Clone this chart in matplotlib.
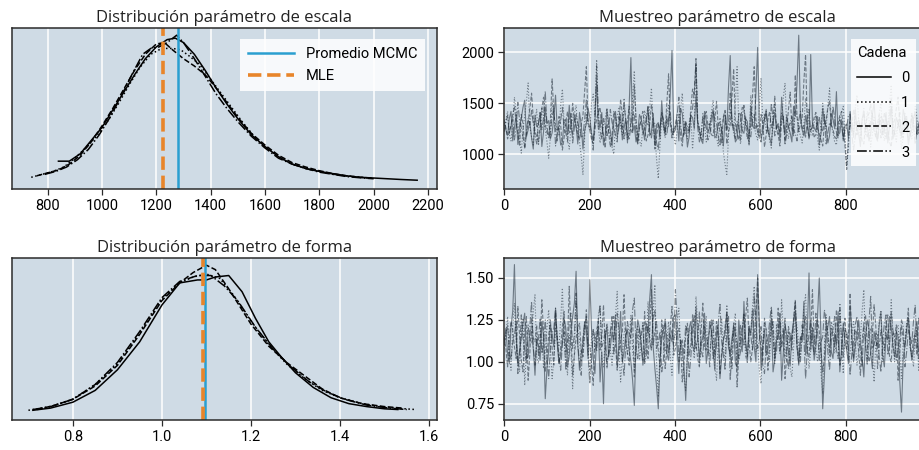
import numpy as np
import matplotlib
matplotlib.use("Agg")
import matplotlib.pyplot as plt

# ---- data ----
# KDE of the scale parameter, one curve per chain (relative density)
esc_x0 = [840, 880, 920, 960, 1000, 1040, 1080, 1120, 1160, 1200, 1240, 1270, 1300, 1340, 1380, 1420,
          1460, 1500, 1550, 1600, 1650, 1700, 1750, 1800, 1850, 1900, 1950, 2000, 2050, 2100, 2160]
esc_d0 = [0.14, 0.14, 0.19, 0.28, 0.37, 0.49, 0.61, 0.73, 0.84, 0.92, 0.97, 0.98, 0.95, 0.87, 0.76, 0.64,
          0.53, 0.43, 0.32, 0.24, 0.17, 0.12, 0.09, 0.07, 0.055, 0.04, 0.03, 0.025, 0.02, 0.015, 0.01]
esc_x1 = [740, 780, 820, 860, 900, 940, 980, 1020, 1060, 1100, 1140, 1180, 1220, 1260, 1290, 1320,
          1360, 1400, 1440, 1480, 1520, 1560, 1600, 1650, 1700, 1750, 1800, 1850, 1900, 1950, 1990]
esc_d1 = [0.03, 0.05, 0.07, 0.10, 0.16, 0.23, 0.31, 0.41, 0.53, 0.66, 0.78, 0.87, 0.91, 0.91, 0.90, 0.86,
          0.80, 0.70, 0.60, 0.50, 0.40, 0.31, 0.24, 0.17, 0.12, 0.09, 0.07, 0.05, 0.04, 0.03, 0.025]
esc_x2 = [760, 800, 840, 880, 920, 960, 1000, 1040, 1080, 1120, 1160, 1200, 1230, 1260, 1300, 1340,
          1380, 1420, 1460, 1500, 1550, 1600, 1650, 1700, 1750, 1800, 1850, 1900, 1950, 2000]
esc_d2 = [0.04, 0.06, 0.08, 0.12, 0.18, 0.27, 0.38, 0.50, 0.63, 0.76, 0.87, 0.94, 0.95, 0.90, 0.84, 0.79,
          0.73, 0.64, 0.54, 0.44, 0.33, 0.25, 0.18, 0.13, 0.10, 0.075, 0.055, 0.04, 0.03, 0.022]
esc_x3 = [790, 830, 870, 910, 950, 990, 1030, 1070, 1110, 1150, 1180, 1210, 1240, 1275, 1300, 1340,
          1380, 1420, 1460, 1500, 1550, 1600, 1650, 1700, 1750, 1800, 1850, 1900, 1960, 2000]
esc_d3 = [0.05, 0.07, 0.10, 0.15, 0.22, 0.32, 0.44, 0.58, 0.73, 0.87, 0.91, 0.92, 0.95, 1.00, 0.95, 0.84,
          0.72, 0.60, 0.50, 0.41, 0.31, 0.23, 0.16, 0.12, 0.09, 0.065, 0.05, 0.035, 0.025, 0.02]

# KDE of the shape parameter
for_x0 = [0.71, 0.75, 0.80, 0.85, 0.90, 0.95, 1.00, 1.04, 1.08, 1.10, 1.12, 1.15, 1.18, 1.21, 1.24, 1.27,
          1.30, 1.34, 1.38, 1.42, 1.46, 1.50, 1.53]
for_d0 = [0.015, 0.03, 0.07, 0.15, 0.29, 0.48, 0.73, 0.88, 0.90, 0.90, 0.92, 0.93, 0.82, 0.64, 0.48, 0.37,
          0.27, 0.17, 0.10, 0.06, 0.04, 0.025, 0.02]
for_x1 = [0.70, 0.75, 0.80, 0.85, 0.90, 0.95, 1.00, 1.04, 1.07, 1.10, 1.13, 1.16, 1.20, 1.24, 1.28, 1.32,
          1.36, 1.40, 1.45, 1.50, 1.57]
for_d1 = [0.015, 0.04, 0.09, 0.19, 0.33, 0.54, 0.77, 0.88, 0.92, 0.94, 0.91, 0.80, 0.62, 0.46, 0.33, 0.23,
          0.15, 0.10, 0.06, 0.035, 0.02]
for_x2 = [0.72, 0.76, 0.80, 0.85, 0.90, 0.95, 1.00, 1.04, 1.07, 1.10, 1.12, 1.15, 1.20, 1.24, 1.28, 1.32,
          1.36, 1.40, 1.45, 1.50, 1.54]
for_d2 = [0.02, 0.05, 0.09, 0.18, 0.32, 0.53, 0.76, 0.88, 0.95, 1.00, 0.97, 0.84, 0.60, 0.45, 0.34, 0.25,
          0.16, 0.10, 0.06, 0.04, 0.03]
for_x3 = [0.71, 0.75, 0.80, 0.85, 0.90, 0.95, 1.00, 1.04, 1.08, 1.11, 1.14, 1.17, 1.21, 1.25, 1.29, 1.33,
          1.37, 1.41, 1.46, 1.51, 1.55]
for_d3 = [0.02, 0.04, 0.09, 0.19, 0.34, 0.55, 0.78, 0.89, 0.93, 0.93, 0.86, 0.76, 0.58, 0.43, 0.31, 0.21,
          0.14, 0.09, 0.05, 0.03, 0.02]

media_esc, mle_esc = 1280, 1225
media_for, mle_for = 1.096, 1.093

# traces (every 4th draw)
tr_esc0 = [1310, 1240, 1185, 1350, 1420, 1130, 1260, 1390, 1095, 1280, 1350, 1460, 1530, 1170, 1240, 1320, 1160, 1050, 1385, 1270,
           1290, 1410, 1075, 1220, 1460, 1300, 1330, 1150, 1210, 1360, 1580, 1240, 1250, 1090, 1120, 1330, 1340, 1190, 1480, 1260,
           1195, 1380, 1275, 1100, 1410, 1290, 1050, 1230, 1300, 1450, 1365, 1200, 1140, 1320, 1720, 1250, 1260, 1410, 1090, 1170,
           1445, 1300, 1230, 1080, 1315, 1420, 1170, 1260, 1390, 1140, 1255, 1350, 1110, 1480, 1950, 1230, 1280, 1120, 1205, 1390,
           1350, 1260, 1140, 1310, 1460, 1180, 1220, 1400, 1085, 1290, 1310, 1150, 1525, 1270, 1190, 1360, 1270, 1600, 2020, 1210,
           1240, 1330, 1130, 1450, 1400, 1190, 1295, 1070, 1170, 1380, 1360, 1250, 1580, 1300, 1215, 1140, 1105, 1420, 1330, 1210,
           1265, 1370, 1440, 1160, 1180, 1300, 1310, 1240, 1080, 1350, 1235, 1660, 1970, 1280, 1290, 1120, 1150, 1400, 1395, 1230,
           1205, 1350, 1320, 1090, 1475, 1280, 1250, 1610, 2050, 1300, 1160, 1220, 1340, 1440, 1220, 1170, 1095, 1310, 1410, 1250,
           1285, 1140, 1560, 1330, 1195, 1380, 1265, 1210, 1120, 1470, 1370, 1700, 2170, 1360, 1240, 1180, 1380, 1290, 1150, 1980,
           1305, 1260, 1225, 1370, 1090, 1200, 1450, 1320, 1270, 1110, 1180, 1400, 1345, 1250, 1615, 1190, 1210, 1340, 1130, 1280,
           1295, 1160, 1420, 1300, 1165, 1440, 1250, 1200, 1075, 1350, 1390, 1240, 1280, 1130, 1200, 1390, 1505, 1270, 1145, 1320,
           1330, 1190, 1260, 1410, 1110, 1280, 1470, 1150, 1225, 1360, 1305, 1230, 1185, 1440, 1360, 1270, 1095, 1180, 1240, 1350,
           1415, 1200, 1275, 1310, 1155, 1390, 1330, 1240, 1215, 1300]
tr_esc1 = [1250, 1330, 1420, 1200, 1130, 1290, 1560, 1410, 1290, 1160, 1010, 1250, 1380, 1520, 1700, 1270, 1170, 1090, 1330, 1440,
           1085, 1230, 1460, 1350, 1240, 1120, 960, 1180, 1520, 1390, 1300, 1210, 1190, 1480, 1640, 1310, 1270, 1150, 1050, 1260,
           1350, 1400, 1480, 1230, 1120, 980, 800, 1170, 1400, 1300, 1230, 1500, 1590, 1380, 1930, 1260, 1110, 1200, 1290, 1350,
           1450, 1240, 1180, 1070, 1000, 1300, 1370, 1450, 1260, 1190, 1550, 1330, 1140, 1220, 1320, 1560, 1820, 1290, 1210, 1130,
           1080, 1250, 1430, 1340, 1280, 1470, 1650, 1220, 1190, 950, 760, 1100, 1340, 1260, 1160, 1390, 1480, 1310, 1250, 1180,
           1090, 1230, 1370, 1440, 1600, 1290, 1200, 1150, 1310, 1380, 1050, 1260, 1890, 1330, 1240, 1160, 1400, 1290, 1120, 1210,
           1290, 1410, 1530, 1270, 1170, 1080, 1360, 1240, 1020, 900, 800, 1190, 1450, 1350, 1230, 1500, 1860, 1280, 1100, 1230,
           1320, 1370, 1210, 1100, 1580, 1340, 1280, 1190, 1140, 1460, 1750, 1300, 1400, 1220, 1260, 1130, 1060, 1350, 1490, 1270,
           1190, 1250, 1330, 1560, 1700, 1240, 1150, 1310, 1270, 1200, 1430, 1360, 1240, 1180, 1110, 1290, 1550, 1420, 1300, 1230,
           1180, 1310, 1380, 1150, 1040, 1240, 1500, 1370, 1260, 1470, 1650, 1300, 1210, 1120, 1090, 1280, 1350, 1410, 1470, 1190,
           880, 1060, 1310, 1240, 1200, 1450, 1580, 1330, 1160, 1270, 1290, 1180, 1420, 1350, 1070, 1200, 1360, 1280, 1240, 1400,
           1500, 1220, 1130, 1310, 1280, 1490, 1680, 1260, 1190, 1120, 1340, 1250, 1050, 1180, 1400, 1330, 1250, 1210, 1150, 1290,
           1470, 1360, 1220, 1150, 1300, 1240, 1110, 1350, 1390, 1260]
tr_esc2 = [1340, 1260, 1150, 1220, 1280, 1390, 1470, 1310, 1200, 1080, 1390, 1300, 1060, 1190, 1310, 1450, 1600, 1350, 1230, 1170,
           1120, 1280, 1450, 1560, 1290, 1210, 1180, 1330, 1740, 1400, 1250, 1130, 1370, 1290, 1040, 1160, 1320, 1420, 1210, 1270,
           1500, 1340, 1270, 1190, 1140, 1300, 1380, 1620, 1860, 1330, 1230, 1150, 1100, 1240, 1350, 1410, 1460, 1280, 1190, 1060,
           1300, 1220, 1070, 1180, 1420, 1370, 1260, 1300, 1540, 1390, 1150, 1240, 1330, 1470, 1240, 1200, 1680, 1350, 1110, 1250,
           1360, 1420, 1270, 1130, 1190, 1300, 1490, 1360, 1050, 1180, 1300, 1250, 1410, 1330, 1220, 1500, 1790, 1310, 1160, 1230,
           1280, 1400, 1390, 1180, 1080, 1270, 1330, 1210, 1220, 1450, 1640, 1590, 1940, 1320, 1260, 1150, 1140, 1370, 1420, 1280,
           1300, 1190, 1180, 1350, 1520, 1270, 1240, 1110, 1370, 1430, 1100, 1220, 1290, 1560, 1840, 1300, 1200, 1140, 1330, 1460,
           1450, 1280, 1150, 1210, 1280, 1570, 1860, 1340, 1210, 1170, 1390, 1300, 1070, 1190, 1340, 1420, 1260, 1330, 1570, 1240,
           1190, 1080, 1300, 1370, 1130, 1250, 1440, 1610, 1250, 1180, 1780, 1380, 1220, 1300, 1350, 1720, 1980, 1280, 1160, 1230,
           1290, 1360, 1410, 1250, 1200, 1140, 1080, 1300, 1330, 1460, 1520, 1290, 1240, 1170, 1150, 1310, 1380, 1420, 1270, 1080,
           850, 1150, 1320, 1250, 1440, 1360, 1190, 1280, 1260, 1130, 1100, 1290, 1370, 1400, 1490, 1310, 1230, 1170, 1300, 1390,
           1160, 1250, 1410, 1330, 1250, 1120, 1070, 1280, 1340, 1450, 1560, 1300, 1210, 1160, 1290, 1370, 1140, 1240, 1380, 1300,
           1270, 1200, 1190, 1340, 1430, 1260, 1230, 1180, 1310, 1270]
tr_esc3 = [1220, 1310, 1380, 1200, 1290, 1350, 1140, 1270, 1510, 1330, 1260, 1170, 1060, 1240, 1350, 1290, 1430, 1300, 1190, 1100,
           1300, 1410, 1240, 1360, 1620, 1280, 1150, 1220, 1370, 1450, 1080, 1190, 1280, 1330, 1460, 1250, 1210, 1120, 1330, 1400,
           1110, 1260, 1390, 1300, 1250, 1170, 1180, 1340, 1540, 1290, 1290, 1210, 1040, 1360, 1870, 1420, 1230, 1150, 1350, 1280,
           1170, 1240, 1440, 1310, 1260, 1190, 1120, 1370, 1310, 1250, 1500, 1330, 1200, 1140, 1290, 1400, 1380, 1220, 1090, 1280,
           1330, 1190, 1250, 1360, 1470, 1230, 1160, 1310, 1300, 1110, 1040, 1270, 1400, 1330, 1220, 1190, 1350, 1420, 1180, 1250,
           1270, 1380, 1560, 1300, 1140, 1210, 1310, 1280, 1230, 1390, 1450, 1620, 1880, 1260, 1120, 1200, 1360, 1310, 1260, 1140,
           1190, 1290, 1420, 1350, 1300, 1180, 1080, 1240, 1350, 1410, 1240, 1300, 1600, 1330, 1200, 1150, 1320, 1260, 1140, 1370,
           1480, 1290, 1260, 1200, 1170, 1340, 1390, 1250, 1290, 1160, 1120, 1300, 1340, 1420, 1230, 1180, 1500, 1350, 1180, 1270,
           1300, 1220, 1410, 1360, 1090, 1200, 1270, 1310, 1370, 1240, 1200, 1130, 1330, 1420, 1250, 1280, 1160, 1340, 1440, 1230,
           1280, 1170, 1190, 1300, 1360, 1250, 1230, 1390, 1100, 1210, 1310, 1280, 1470, 1350, 1220, 1160, 1340, 1290, 1150, 1240,
           1260, 1380, 1390, 1200, 1040, 1170, 1300, 1350, 1230, 1310, 1450, 1260, 1170, 1220, 1330, 1400, 1260, 1190, 1120, 1280,
           1380, 1330, 1240, 1150, 1300, 1370, 1540, 1270, 1190, 1230, 1280, 1410, 1150, 1260, 1360, 1300, 1220, 1180, 1400, 1290,
           1100, 1240, 1290, 1370, 1340, 1260, 1210, 1150, 1270, 1320]

tr_for0 = [1.12, 1.20, 1.05, 0.99, 1.21, 1.30, 1.58, 1.16, 0.98, 1.07, 1.14, 1.23, 1.29, 1.02, 1.03, 1.19, 1.18, 1.08, 0.92, 1.13,
           1.10, 1.01, 1.24, 1.15, 0.78, 0.96, 1.07, 1.22, 1.16, 1.09, 1.32, 1.11, 0.99, 1.04, 1.12, 1.26, 1.20, 0.97, 1.04, 1.17,
           1.27, 1.35, 1.54, 1.10, 0.95, 1.05, 1.11, 1.24, 1.18, 1.02, 1.49, 1.19, 1.02, 0.93, 1.15, 1.21, 0.88, 1.06, 0.75, 1.14,
           1.22, 1.03, 1.09, 1.18, 1.13, 1.28, 0.97, 1.10, 1.30, 1.00, 1.06, 1.16, 1.19, 1.07, 1.00, 0.89, 0.74, 1.12, 1.25, 1.20,
           1.11, 0.98, 1.04, 1.23, 1.17, 1.38, 1.52, 1.09, 0.96, 0.85, 0.72, 1.01, 1.14, 1.19, 1.23, 1.05, 1.01, 1.16, 1.12, 1.27,
           1.28, 1.08, 0.93, 1.13, 1.08, 0.97, 0.77, 1.04, 1.20, 1.24, 1.10, 1.06, 1.33, 1.15, 1.02, 1.11, 1.15, 1.29, 0.99, 1.07,
           1.24, 1.18, 1.07, 0.95, 1.18, 1.22, 0.90, 1.03, 1.13, 1.17, 1.29, 1.08, 1.05, 1.14, 1.21, 0.99, 0.97, 1.25, 1.11, 1.06,
           1.36, 1.12, 1.03, 1.20, 1.16, 1.31, 1.09, 1.00, 1.52, 1.23, 0.95, 1.10, 1.19, 1.04, 1.08, 1.17, 1.26, 0.94, 1.01, 1.13,
           1.14, 1.27, 0.89, 1.05, 1.22, 1.16, 1.06, 0.98, 1.17, 1.24, 1.31, 1.09, 0.98, 1.15, 1.12, 1.36, 1.04, 1.18, 1.53, 1.07,
           1.20, 1.01, 1.09, 1.28, 1.50, 1.14, 0.72, 0.92, 1.15, 1.21, 1.27, 1.06, 1.02, 1.17, 1.10, 1.30, 0.94, 1.08, 1.23, 1.12,
           1.07, 0.99, 1.34, 1.18, 1.00, 1.09, 1.16, 1.25, 1.11, 1.03, 0.91, 1.14, 1.25, 1.20, 1.05, 0.96, 1.18, 1.13, 1.08, 1.22,
           1.30, 1.04, 0.97, 1.16, 1.13, 1.27, 1.21, 1.09, 1.03, 1.18, 1.15, 0.88, 0.70, 1.02, 1.09, 1.19, 1.26, 1.12, 1.01, 1.07,
           1.19, 1.24, 1.06, 1.11, 1.12, 1.00, 0.96, 1.17, 1.14, 1.09]
tr_for1 = [1.08, 1.15, 1.27, 1.04, 0.95, 1.20, 1.35, 1.11, 1.02, 0.94, 1.18, 1.26, 0.86, 1.07, 1.22, 1.13, 1.11, 1.30, 1.40, 1.03,
           0.99, 1.17, 1.15, 0.96, 1.06, 1.21, 1.31, 1.09, 0.90, 1.01, 1.20, 1.14, 1.09, 1.25, 1.44, 1.12, 1.01, 0.92, 1.16, 1.08,
           0.84, 1.05, 1.38, 1.19, 1.13, 1.00, 1.05, 1.24, 1.26, 1.10, 0.93, 1.15, 1.19, 1.07, 1.10, 1.28, 1.33, 1.02, 0.97, 1.12,
           1.23, 1.16, 1.07, 0.98, 1.14, 1.27, 1.42, 1.09, 0.88, 1.03, 1.17, 1.21, 1.04, 1.13, 1.28, 1.07, 0.95, 1.18, 1.21, 1.01,
           1.12, 1.24, 1.00, 1.10, 1.36, 1.15, 1.08, 1.30, 1.46, 0.99, 0.79, 1.06, 1.18, 1.22, 1.06, 1.11, 1.24, 1.03, 0.92, 1.14,
           1.15, 1.25, 1.32, 1.09, 1.03, 0.90, 0.83, 1.07, 1.20, 1.17, 1.11, 1.02, 1.39, 1.23, 0.98, 1.08, 1.13, 1.19, 1.27, 1.05,
           1.05, 1.16, 1.19, 0.97, 0.89, 1.12, 1.16, 1.26, 1.08, 1.01, 1.34, 1.18, 1.01, 1.10, 1.22, 1.29, 0.94, 1.07, 1.14, 1.20,
           1.29, 1.02, 1.04, 1.15, 1.17, 1.33, 1.45, 1.06, 1.10, 0.95, 0.87, 1.11, 1.23, 1.19, 1.06, 1.00, 1.31, 1.14, 0.99, 1.22,
           1.12, 1.05, 1.37, 1.17, 1.02, 1.13, 1.18, 0.96, 0.91, 1.09, 1.26, 1.21, 1.09, 1.03, 1.15, 1.32, 1.40, 1.12, 0.96, 1.07,
           1.21, 1.16, 1.07, 1.00, 1.13, 0.93, 0.81, 1.10, 1.28, 1.18, 1.03, 1.24, 1.19, 1.05, 1.11, 1.14, 1.35, 1.08, 0.93, 1.20,
           1.16, 1.01, 1.05, 1.17, 1.24, 1.12, 0.98, 1.06, 1.14, 1.30, 1.43, 1.09, 1.02, 1.15, 1.20, 1.04, 0.88, 1.11, 1.10, 1.26,
           1.30, 1.00, 1.06, 1.21, 1.17, 1.09, 1.37, 1.13, 1.00, 1.18, 1.22, 1.05, 0.90, 1.12, 1.13, 1.23, 1.27, 1.08, 1.04, 0.97,
           1.15, 1.20, 0.95, 1.14, 1.21, 1.02, 1.08, 1.25, 1.18, 1.10]
tr_for2 = [1.15, 1.08, 0.97, 1.13, 1.24, 1.19, 1.09, 1.02, 1.33, 1.16, 1.01, 0.94, 1.18, 1.27, 0.89, 1.05, 1.26, 1.14, 1.12, 1.22,
           1.04, 1.10, 1.37, 1.18, 0.94, 1.03, 1.16, 1.25, 1.08, 0.98, 1.29, 1.15, 0.99, 1.09, 1.21, 1.30, 1.06, 1.12, 1.45, 1.17,
           0.92, 1.04, 1.14, 1.20, 1.23, 1.07, 1.03, 1.16, 1.31, 1.10, 1.10, 0.99, 0.86, 1.13, 1.19, 1.24, 1.07, 1.15, 1.34, 1.09,
           1.00, 1.05, 1.17, 1.22, 1.27, 1.11, 0.95, 1.06, 1.13, 1.18, 1.40, 1.12, 1.05, 0.98, 1.22, 1.26, 0.91, 1.08, 1.15, 1.20,
           1.09, 1.01, 1.30, 1.14, 1.02, 1.19, 1.43, 1.10, 1.18, 1.24, 1.06, 0.97, 1.25, 1.13, 0.96, 1.07, 1.14, 1.21, 1.33, 1.04,
           1.08, 1.17, 1.20, 1.11, 0.88, 0.99, 1.16, 1.23, 1.04, 1.10, 1.28, 1.15, 1.11, 1.02, 0.97, 1.18, 1.35, 1.08, 1.07, 1.14,
           1.19, 1.25, 1.02, 1.09, 1.24, 1.16, 0.93, 1.06, 1.13, 1.21, 1.30, 1.11, 1.06, 0.96, 1.17, 1.23, 0.85, 1.04, 1.22, 1.15,
           1.10, 1.27, 1.38, 1.12, 1.00, 1.08, 1.15, 1.29, 1.50, 1.17, 1.08, 1.01, 1.26, 1.19, 0.95, 1.10, 1.19, 1.24, 1.04, 1.13,
           1.32, 1.06, 1.12, 1.20, 0.90, 1.03, 1.21, 1.15, 1.07, 1.27, 1.36, 1.09, 0.99, 1.14, 1.16, 1.22, 1.27, 1.05, 1.03, 1.18,
           1.43, 1.11, 1.10, 1.25, 1.18, 1.07, 0.94, 1.02, 1.25, 1.16, 1.06, 1.20, 1.14, 1.09, 1.31, 1.13, 0.98, 1.04, 1.20, 1.26,
           1.08, 1.15, 1.41, 1.10, 1.02, 1.19, 1.17, 1.06, 0.92, 1.12, 1.23, 1.28, 1.11, 1.00, 1.05, 1.16, 1.34, 1.21, 0.96, 1.09,
           1.19, 1.14, 1.07, 1.24, 1.28, 1.03, 1.00, 1.17, 1.15, 1.22, 0.89, 1.06, 1.22, 1.13, 1.09, 1.20, 1.32, 1.10, 1.03, 1.15,
           1.16, 1.04, 1.26, 1.18, 0.97, 1.08, 1.12, 1.21, 1.08, 1.14]
tr_for3 = [1.10, 1.17, 1.22, 1.06, 1.01, 1.12, 1.16, 1.24, 0.93, 1.05, 1.28, 1.14, 1.07, 0.99, 1.19, 1.21, 1.36, 1.09, 0.98, 1.15,
           1.13, 1.26, 1.05, 1.11, 1.25, 1.02, 0.90, 1.08, 1.17, 1.20, 1.32, 1.13, 1.03, 0.95, 1.11, 1.18, 0.95, 1.07, 1.23, 1.29,
           1.08, 1.16, 1.41, 1.10, 1.00, 0.92, 1.15, 1.22, 1.27, 1.04, 0.87, 1.01, 1.20, 1.14, 1.06, 1.25, 1.34, 1.09, 1.12, 1.19,
           0.96, 1.06, 1.18, 1.27, 1.04, 1.13, 1.29, 1.20, 1.09, 1.02, 0.92, 1.10, 1.24, 1.17, 1.14, 1.31, 1.38, 1.07, 1.02, 1.15,
           1.16, 1.22, 0.99, 1.04, 1.21, 1.12, 1.07, 1.26, 1.31, 1.08, 1.11, 1.18, 0.94, 1.01, 1.26, 1.14, 1.05, 1.20, 1.17, 1.09,
           1.43, 1.24, 1.00, 1.11, 1.13, 1.05, 1.22, 1.16, 0.91, 1.03, 1.19, 1.28, 1.08, 1.13, 1.30, 1.07, 1.03, 1.21, 1.15, 1.10,
           0.97, 1.18, 1.25, 1.04, 1.10, 1.23, 1.35, 1.12, 1.04, 0.95, 1.18, 1.27, 0.89, 1.08, 1.23, 1.16, 1.12, 1.01, 1.06, 1.19,
           1.28, 1.11, 0.99, 1.22, 1.16, 1.07, 1.40, 1.26, 1.08, 1.13, 1.21, 0.98, 0.93, 1.10, 1.14, 1.24, 1.33, 1.16, 1.02, 1.06,
           1.19, 1.29, 1.09, 1.14, 1.26, 1.03, 0.96, 1.17, 1.13, 1.22, 1.37, 1.10, 1.05, 1.00, 1.22, 1.15, 0.90, 1.07, 1.17, 1.25,
           1.11, 1.04, 1.29, 1.18, 1.01, 1.12, 1.15, 1.31, 1.24, 1.06, 0.95, 1.13, 1.20, 1.27, 1.07, 1.02, 1.32, 1.14, 1.03, 1.19,
           1.18, 1.09, 0.92, 1.05, 1.12, 1.22, 1.27, 1.15, 1.06, 0.97, 1.21, 1.11, 0.98, 1.24, 1.39, 1.08, 1.10, 1.17, 1.16, 1.03,
           0.94, 1.12, 1.23, 1.28, 1.04, 1.09, 1.30, 1.19, 1.13, 1.01, 1.08, 1.14, 1.25, 1.21, 0.97, 1.06, 1.19, 1.15, 1.11, 1.24,
           1.34, 1.10, 1.02, 1.18, 1.15, 1.07, 1.06, 1.13, 1.20, 1.12]

cadenas = ["0", "1", "2", "3"]
estilos = ["-", ":", "--", "-."]

# ---- style ----
plt.rcParams["font.family"] = ["Roboto", "DejaVu Sans"]
fondo = "#cfdbe5"
c_media = "#2a9fd0"
c_mle = "#e8852a"

fig = plt.figure(figsize=(9.2, 4.5), dpi=100)
ax_de = fig.add_axes([0.013, 0.58, 0.462, 0.358])
ax_df = fig.add_axes([0.013, 0.067, 0.462, 0.36])
ax_te = fig.add_axes([0.548, 0.58, 0.464, 0.358])
ax_tf = fig.add_axes([0.548, 0.067, 0.464, 0.36])


def estilo(ax, titulo):
    ax.set_facecolor(fondo)
    for s in ax.spines.values():
        s.set_color("#2b2b2b")
        s.set_linewidth(1.1)
    ax.set_axisbelow(True)
    ax.tick_params(labelsize=10.5, color="#2b2b2b", length=4, width=0.9, pad=3)
    ax.set_title(titulo, fontsize=12, family=["Open Sans", "DejaVu Sans"], pad=4, color="#222222")


# distributions
kde_esc = [(esc_x0, esc_d0), (esc_x1, esc_d1), (esc_x2, esc_d2), (esc_x3, esc_d3)]
kde_for = [(for_x0, for_d0), (for_x1, for_d1), (for_x2, for_d2), (for_x3, for_d3)]
for ax, kdes, media, mle, titulo, xl in [
        (ax_de, kde_esc, media_esc, mle_esc, "Distribución parámetro de escala", (669, 2233)),
        (ax_df, kde_for, media_for, mle_for, "Distribución parámetro de forma", (0.663, 1.618))]:
    estilo(ax, titulo)
    for (x, d), ls in zip(kdes, estilos):
        ax.plot(x, d, color="k", ls=ls, lw=1.1)
    ax.axvline(media, color=c_media, lw=1.8, label="Promedio MCMC")
    ax.axvline(mle, color=c_mle, lw=2.6, ls="--", label="MLE")
    ax.set_xlim(*xl)
    ax.set_ylim(-0.05, 1.05)
    ax.set_yticks([])
    ax.grid(axis="x", color="white", lw=1.1)

ax_de.set_xticks(range(800, 2201, 200))
ax_df.set_xticks([0.8, 1.0, 1.2, 1.4, 1.6])
ax_de.legend(loc="upper right", bbox_to_anchor=(0.99, 0.975), fontsize=10.5, frameon=True,
             facecolor="white", edgecolor="none", framealpha=0.85, fancybox=False,
             handlelength=3.2, borderpad=0.55, labelspacing=0.55)

# traces
trazas_esc = [tr_esc0, tr_esc1, tr_esc2, tr_esc3]
trazas_for = [tr_for0, tr_for1, tr_for2, tr_for3]
for ax, trazas, titulo, yl, yt in [
        (ax_te, trazas_esc, "Muestreo parámetro de escala", (657, 2242), [1000, 1500, 2000]),
        (ax_tf, trazas_for, "Muestreo parámetro de forma", (0.654, 1.62), [0.75, 1.00, 1.25, 1.50])]:
    estilo(ax, titulo)
    for v, ls, cad in zip(trazas, estilos, cadenas):
        pasos = np.linspace(0, 999, len(v))
        ax.plot(pasos, v, color="#1c2834", ls=ls, lw=0.8, alpha=0.55, label=cad)
    ax.set_xlim(0, 1000)
    ax.set_ylim(*yl)
    ax.set_yticks(yt)
    ax.set_xticks([0, 200, 400, 600, 800])
    ax.grid(color="white", lw=1.1)

ax_tf.yaxis.set_major_formatter(matplotlib.ticker.FormatStrFormatter("%.2f"))

hs = [matplotlib.lines.Line2D([], [], color="k", ls=ls, lw=1.1) for ls in estilos]
ax_te.legend(hs, cadenas, title="Cadena", loc="upper left", bbox_to_anchor=(0.795, 0.975),
             fontsize=10.5, title_fontsize=10.5, frameon=True, facecolor="white", edgecolor="none",
             framealpha=0.85, fancybox=False, handlelength=2.3, handletextpad=0.7, borderpad=0.45,
             labelspacing=0.75, alignment="left")

fig.savefig("out.png", dpi=100)
